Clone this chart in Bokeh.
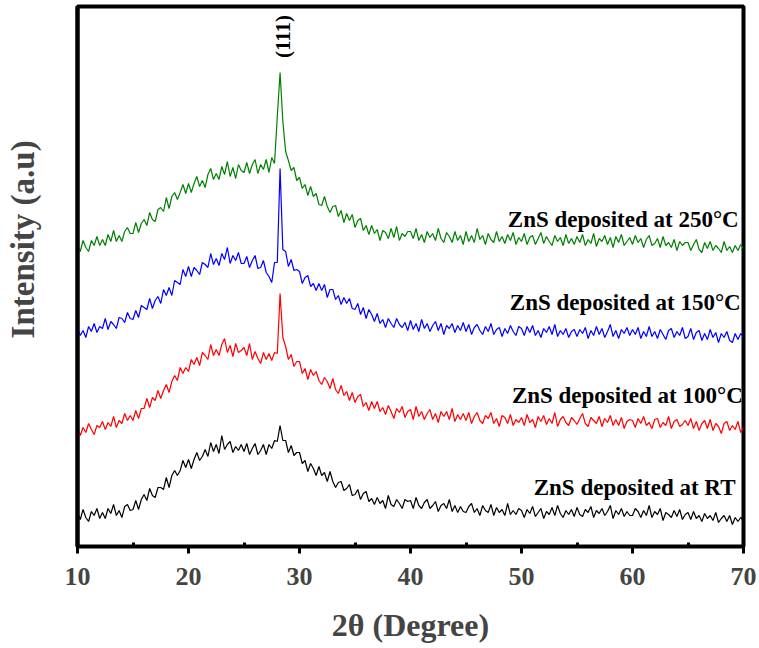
import numpy as np
from bokeh.plotting import figure
from bokeh.models import Label, Range1d, FixedTicker
from bokeh.core.properties import value
from bokeh.embed import file_html
from bokeh.resources import INLINE

# 2-theta grid (degrees), 0.25 degree step
two_theta = np.linspace(10, 70, 241)

# Intensities (a.u., already offset per pattern)
rt = [34,27,37,29,25,35,31,38,28,34,28,38,33,42,31,36,29,40,42,36,
      37,46,37,47,52,46,58,51,49,59,59,57,69,59,71,76,71,76,86,79,
      87,78,87,94,86,90,97,90,104,95,102,93,111,97,102,105,94,100,96,102,
      95,103,92,98,103,92,96,102,92,102,98,106,105,121,106,106,94,101,91,94,
      94,83,86,75,83,78,71,80,71,74,65,75,65,59,64,65,56,58,62,51,
      52,57,47,53,55,45,48,42,49,43,46,38,51,42,40,47,43,38,47,45,
      46,38,49,41,38,44,47,38,41,45,35,41,43,38,47,35,41,34,40,35,
      34,40,43,34,38,31,41,36,34,42,31,39,34,37,31,43,32,36,32,38,
      36,29,37,33,40,30,34,38,28,35,32,39,31,41,33,29,36,32,37,30,
      39,32,30,37,34,40,29,36,33,38,31,35,41,28,36,32,38,30,35,31,
      31,38,35,29,36,31,41,29,35,32,38,26,34,32,29,36,30,37,27,32,
      34,27,35,28,31,25,33,28,31,26,34,24,28,31,25,31,22,29,25,29,
      26]

t100 = [120,111,119,114,123,117,112,121,119,125,117,124,120,130,119,126,123,133,126,131,
        126,136,128,138,138,148,139,149,146,156,148,156,162,154,165,171,166,179,173,179,
        175,187,182,189,181,194,191,187,202,191,197,191,202,208,194,201,190,203,194,196,
        199,191,203,187,195,188,183,194,187,193,186,194,193,253,209,200,187,192,180,185,
        185,173,178,167,177,171,175,166,162,169,165,158,168,157,153,161,151,155,146,154,
        144,150,152,140,144,136,145,138,145,135,139,132,141,135,128,138,134,140,129,135,
        137,127,140,130,135,127,133,137,127,133,124,135,130,135,127,138,125,132,127,133,
        126,134,123,130,134,126,123,131,128,134,123,128,120,131,129,123,132,121,127,124,
        129,121,132,124,127,119,130,125,131,122,128,123,134,120,127,130,124,121,129,126,
        122,128,133,123,120,129,126,123,130,120,128,124,131,121,127,121,129,118,125,127,
        126,119,128,123,130,121,124,118,127,128,119,124,121,130,118,125,127,120,122,126,
        121,128,118,125,116,123,126,118,127,116,123,120,113,123,125,116,121,117,125,114,
        119]

t150 = [218,211,216,209,220,215,223,214,220,218,228,217,225,222,218,229,228,224,234,228,
        227,236,229,241,239,237,248,238,246,250,243,257,251,259,251,266,264,262,277,270,
        280,270,279,276,272,284,282,279,293,282,288,281,293,287,299,283,291,286,294,283,
        283,290,279,286,291,278,279,286,274,270,264,284,284,378,297,295,280,287,276,277,
        275,263,269,271,260,263,256,263,256,262,249,257,257,247,251,242,249,243,248,238,
        237,243,232,239,228,237,232,225,233,223,227,219,228,223,219,228,222,219,224,216,
        226,217,223,215,227,218,223,215,221,225,216,223,212,221,218,223,214,221,216,224,
        215,222,212,219,222,216,212,220,215,223,212,217,219,210,218,213,221,215,211,220,
        218,211,220,214,221,211,216,209,218,214,220,212,222,210,216,212,218,209,215,217,
        210,217,213,219,208,216,211,220,212,218,209,215,222,210,216,208,217,213,219,211,
        217,212,219,208,215,210,220,210,215,208,217,212,207,216,218,209,215,211,219,208,
        210,218,207,214,216,206,213,207,217,209,214,204,213,209,215,206,204,213,207,213,
        209]

t250 = [302,295,306,299,295,306,301,310,301,307,301,312,305,316,305,311,305,315,319,313,
        313,324,314,323,327,321,334,327,325,337,339,335,349,338,350,354,347,354,362,353,
        363,354,363,370,360,366,359,372,378,367,373,367,380,372,385,370,379,368,382,376,
        374,384,373,382,387,373,382,377,387,374,389,383,430,474,425,395,386,376,379,366,
        369,358,362,351,360,350,353,342,341,350,340,334,340,341,330,336,324,333,326,332,
        319,326,328,316,321,312,321,313,317,306,316,314,308,318,309,320,306,313,310,315,
        315,308,318,306,312,304,315,309,313,306,318,308,304,314,310,304,315,306,311,302,
        315,305,311,304,318,307,311,302,313,307,304,315,305,310,303,312,306,314,302,309,
        305,313,302,309,311,302,308,314,303,310,305,301,311,305,309,301,312,303,308,302,
        310,304,312,301,307,303,313,300,308,305,311,302,309,299,310,304,312,301,305,309,
        302,311,304,308,299,307,311,301,303,308,299,310,301,304,299,307,296,305,301,304,
        304,296,302,307,297,294,304,298,305,296,301,298,294,305,296,300,294,301,296,302,
        298]

series_names = ["ZnS deposited at RT", "ZnS deposited at 100°C",
                "ZnS deposited at 150°C", "ZnS deposited at 250°C"]
series_colors = ["#000000", "#ff0000", "#0000ff", "#008000"]
x_ticks = [10, 20, 30, 40, 50, 60, 70]
x_minor = [15, 25, 35, 45, 55, 65]
peak_label = "(111)"
y_title = "Intensity (a.u)"
x_title = "2θ (Degree)"

FONT = "Liberation Serif"

p = figure(width=759, height=648, x_range=Range1d(10, 70), y_range=Range1d(0, 540),
           output_backend="svg", toolbar_location=None,
           min_border_left=77, min_border_right=16, min_border_top=6, min_border_bottom=102)
p.grid.visible = False
p.outline_line_color = "black"
p.outline_line_width = 4
p.background_fill_color = "white"
p.border_fill_color = "white"

xa = p.xaxis[0]
xa.ticker = FixedTicker(ticks=x_ticks, minor_ticks=x_minor)
xa.axis_line_width = 3
xa.major_tick_in = 0
xa.major_tick_out = 7
xa.major_tick_line_width = 3
xa.minor_tick_in = 4
xa.minor_tick_out = 0
xa.minor_tick_line_width = 3
xa.major_label_text_font = FONT
xa.major_label_text_font_style = "bold"
xa.major_label_text_font_size = "26px"
xa.major_label_standoff = 14
xa.axis_label = x_title
xa.axis_label_text_font = FONT
xa.axis_label_text_font_style = "bold"
xa.axis_label_text_font_size = "32px"
xa.axis_label_standoff = 19

ya = p.yaxis[0]
ya.ticker = FixedTicker(ticks=[])
ya.major_tick_out = 0
ya.major_tick_in = 0
ya.minor_tick_out = 0
ya.minor_tick_in = 0
ya.axis_line_width = 4
ya.major_label_text_font_size = "0px"
# leading no-break spaces lift the title above the frame centre, as in the original
ya.axis_label = "\u00a0" * 9 + y_title
ya.axis_label_text_font = FONT
ya.axis_label_text_font_style = "bold"
ya.axis_label_text_font_size = "33px"
ya.axis_label_standoff = 37

for ys, c in zip([rt, t100, t150, t250], series_colors):
    p.line(two_theta, ys, line_color=c, line_width=1.2)

# sample names, right aligned near the right edge
name_x = [69.28, 69.94, 69.75, 69.57]
name_y = [59, 151, 244, 327]
p.text(x=name_x, y=name_y, text=series_names, text_align="right",
       text_baseline="alphabetic", text_font=value(FONT),
       text_font_style="bold", text_font_size="23px", text_color="black")

p.add_layout(Label(x=28.55, y=510, text=peak_label, angle=np.pi / 2,
                   text_align="center", text_baseline="middle", text_font=FONT,
                   text_font_style="bold", text_font_size="21px", text_color="black"))

open("out.html", "w").write(file_html(p, INLINE))
